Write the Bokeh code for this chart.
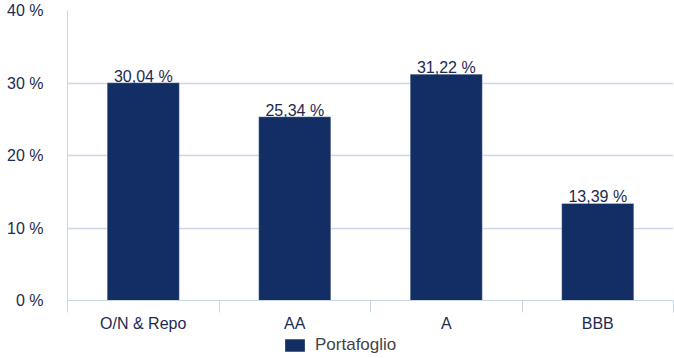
from bokeh.plotting import figure
from bokeh.layouts import column
from bokeh.core.properties import value
from bokeh.models import (ColumnDataSource, LabelSet, Range1d, FixedTicker,
                          Legend, LegendItem)
from bokeh.embed import file_html
from bokeh.resources import INLINE

# Portfolio breakdown by rating class (percent)
categories = ["O/N & Repo", "AA", "A", "BBB"]
portafoglio = [30.04, 25.34, 31.22, 13.39]
y_ticks = [0, 10, 20, 30, 40]
y_tick_labels = ["0 %", "10 %", "20 %", "30 %", "40 %"]
series_name = "Portafoglio"

FONT = "Arial"
NAVY = "#132d65"
TEXT = "#1d2b4f"
GRID = "#cad6e6"

centers = [i + 0.5 for i in range(len(categories))]
value_text = [f"{v:.2f}".replace(".", ",") + " %" for v in portafoglio]

src = ColumnDataSource(dict(x=centers, top=portafoglio, lbl=value_text))

p = figure(width=674, height=334, output_backend="svg", toolbar_location=None,
           x_range=Range1d(0, len(categories)), y_range=Range1d(0, 40),
           min_border_left=67, min_border_right=1, min_border_top=10,
           min_border_bottom=33)
p.outline_line_color = None
p.background_fill_color = "white"
p.border_fill_color = "white"

bar_style = dict(fill_color=NAVY, line_color="white", line_width=0.6, line_alpha=0.5)
p.vbar(x="x", top="top", width=0.476, source=src, **bar_style)

# y axis: percentages, no tick marks
p.yaxis.ticker = FixedTicker(ticks=y_ticks)
p.yaxis.major_label_overrides = {t: s for t, s in zip(y_ticks, y_tick_labels)}
p.yaxis.major_tick_out = 0
p.yaxis.major_tick_in = 0
p.yaxis.minor_tick_line_color = None
p.yaxis.axis_line_color = GRID
p.yaxis.major_label_standoff = 24
p.yaxis.major_label_text_font = FONT
p.yaxis.major_label_text_font_size = "16px"
p.yaxis.major_label_text_color = TEXT

# x axis: names at category centres, separator ticks at the boundaries
p.xaxis.ticker = FixedTicker(ticks=centers,
                             minor_ticks=list(range(len(categories) + 1)))
p.xaxis.major_label_overrides = {c: name for c, name in zip(centers, categories)}
p.xaxis.major_tick_out = 12
p.xaxis.major_tick_in = 0
p.xaxis.major_tick_line_color = None
p.xaxis.minor_tick_out = 12
p.xaxis.minor_tick_in = 0
p.xaxis.minor_tick_line_color = GRID
p.xaxis.axis_line_color = GRID
p.xaxis.major_label_standoff = 2
p.xaxis.major_label_text_font = FONT
p.xaxis.major_label_text_font_size = "16px"
p.xaxis.major_label_text_color = TEXT

p.xgrid.grid_line_color = None
p.ygrid.ticker = FixedTicker(ticks=y_ticks)
p.ygrid.grid_line_color = GRID
p.ygrid.grid_line_width = 1.3

p.add_layout(LabelSet(x="x", y="top", text="lbl", source=src,
                      text_align="center", text_baseline="alphabetic",
                      y_offset=1, text_font=value(FONT), text_font_size="16px",
                      text_color=TEXT))

# legend strip underneath the chart; its swatch renderer stays hidden
lg = figure(width=674, height=24, output_backend="svg", toolbar_location=None,
            x_range=Range1d(0, 1), y_range=Range1d(0, 1),
            min_border_left=0, min_border_right=0, min_border_top=0,
            min_border_bottom=0, x_axis_type=None, y_axis_type=None)
lg.outline_line_color = None
lg.grid.visible = False
swatch = lg.vbar(x=centers[:1], top=portafoglio[:1], width=0.1, visible=False,
                 **bar_style)
legend = Legend(items=[LegendItem(label=series_name, renderers=[swatch])],
                location=(215, 3), orientation="horizontal",
                padding=0, margin=0, spacing=0,
                glyph_width=25, glyph_height=16, label_height=16,
                label_standoff=8, label_text_font=FONT,
                label_text_font_size="17px", label_text_color="#444444",
                border_line_color=None, background_fill_alpha=0)
lg.add_layout(legend, "center")

open("out.html", "w").write(file_html(column(p, lg, spacing=0), INLINE))
